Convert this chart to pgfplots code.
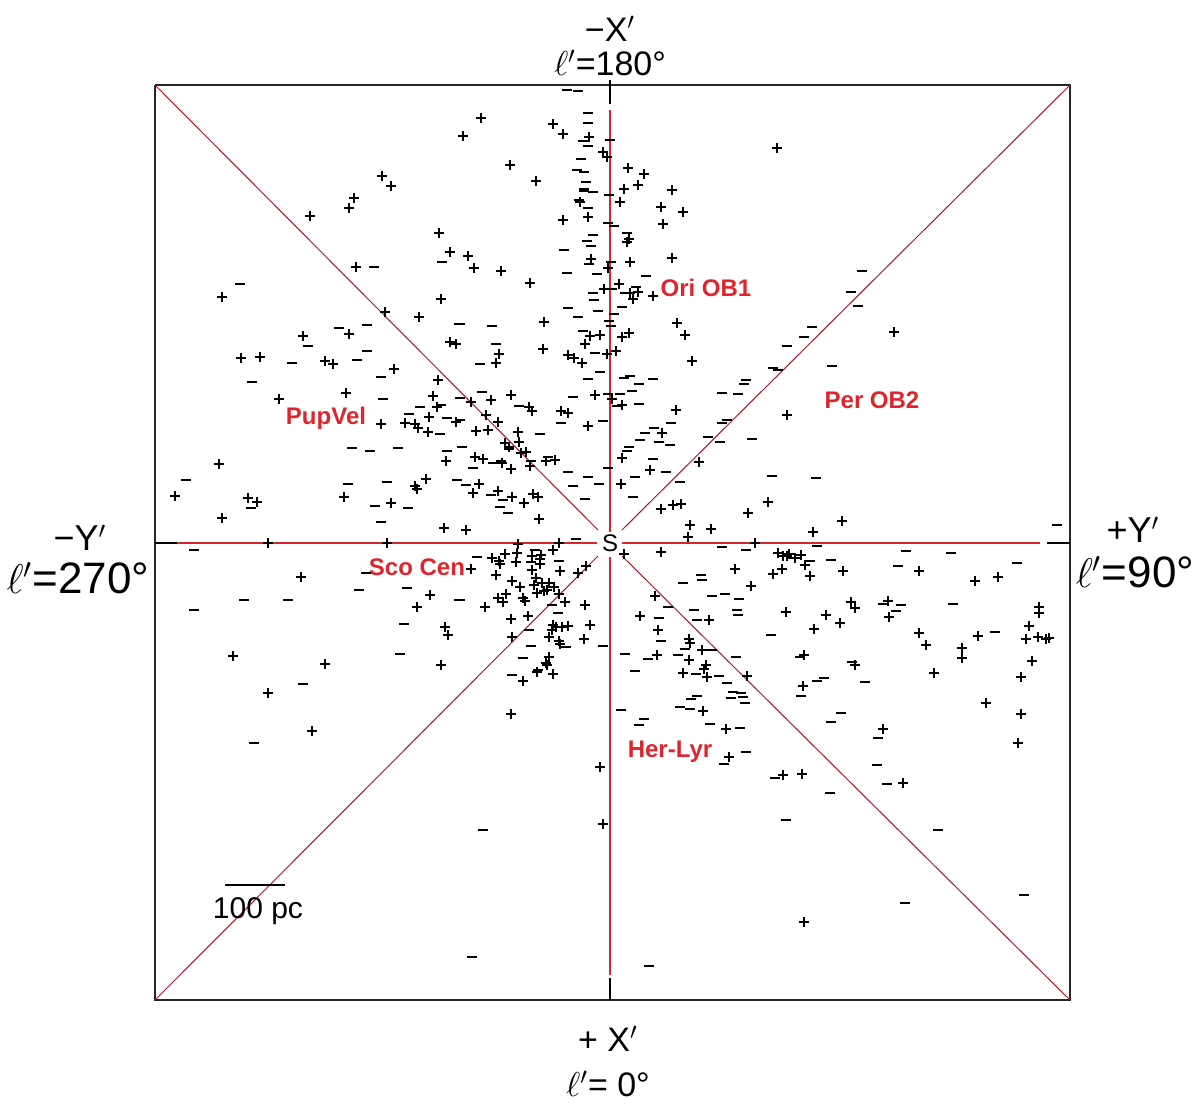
\documentclass[border=0pt]{standalone}
\usepackage{pgfplots}
\pgfplotsset{compat=1.18}
\usepackage{fontspec}
\setmainfont{Liberation Sans}
\definecolor{lblred}{RGB}{222,36,44}
\definecolor{linered}{RGB}{214,38,44}
\definecolor{diagred}{RGB}{176,20,40}
\begin{document}
\begin{tikzpicture}
\begin{axis}[
  scale only axis, width=600pt, height=552.5pt,
  xmin=0, xmax=1200, ymin=0, ymax=1105, y dir=reverse,
  axis lines=none, clip=false,
]
\path (rel axis cs:0,0) rectangle (rel axis cs:1,1);
% frame
\addplot[black!85, line width=1pt, mark=none] coordinates {(155,85) (1070,85) (1070,1000) (155,1000) (155,85)};
% centre ticks on frame
\addplot[black, line width=1.1pt, mark=none] coordinates {(610,80) (610,104)};
\addplot[black, line width=1.1pt, mark=none] coordinates {(610,978) (610,1000)};
\addplot[black, line width=1.1pt, mark=none] coordinates {(155,543) (177,543)};
\addplot[black, line width=1.1pt, mark=none] coordinates {(1047,543) (1070,543)};
% diagonals
\addplot[diagred, line width=0.5pt, mark=none] coordinates {(155,85) (598,530)};
\addplot[diagred, line width=0.5pt, mark=none] coordinates {(1070,85) (622,530)};
\addplot[diagred, line width=0.5pt, mark=none] coordinates {(155,1000) (598,556)};
\addplot[diagred, line width=0.5pt, mark=none] coordinates {(1070,1000) (622,556)};
% axes lines
\addplot[linered, line width=1.2pt, mark=none] coordinates {(610,110) (610,532)};
\addplot[linered, line width=1.2pt, mark=none] coordinates {(610,557) (610,975)};
\addplot[linered, line width=1.2pt, mark=none] coordinates {(177,543) (597,543)};
\addplot[linered, line width=1.2pt, mark=none] coordinates {(622,543) (1040,543)};
% scale bar
\addplot[black, line width=1pt, mark=none] coordinates {(225,885) (285,885)};
% plus stars
\addplot[only marks, mark=+, mark size=2.4pt, mark options={line width=1.35pt, black}] coordinates {
(382,176)(391,186)(354,198)(349,208)(310,216)(439,233)(450,252)(356,267)(222,297)(441,299)(385,312)(419,317)(303,336)(349,334)(241,358)(260,357)(325,361)(333,364)(394,369)(438,380)(450,342)(456,344)
(481,118)(463,136)(553,124)(563,134)(589,137)(510,165)(536,181)(603,152)(607,157)(628,168)(644,174)(624,189)(638,185)(672,190)(620,202)(661,207)(683,212)(563,220)(663,224)(629,239)(627,242)(468,256)(474,268)(501,271)(591,259)(630,262)(672,258)(530,283)(608,268)(619,284)(604,289)(638,292)(633,299)(653,296)(630,293)(677,323)(685,335)(544,322)(543,349)(499,354)(496,363)(568,355)(574,358)(582,363)(590,336)(585,344)(600,335)(607,354)(616,351)(629,333)(622,337)(692,361)(580,202)(588,217)
(777,148)(894,332)
(279,399)(346,393)(433,396)(437,407)(381,424)(405,423)(415,424)(418,428)(429,417)(428,432)(456,422)(219,464)(446,461)(175,496)(248,498)(257,502)(222,518)(344,497)(391,503)(415,486)(417,489)(426,479)(444,528)(268,543)(387,543)(301,577)(430,595)(417,607)(445,627)(448,635)(233,656)(325,664)(441,665)(268,693)
(511,395)(491,400)(471,402)(595,395)(612,399)(622,405)(561,411)(568,413)(529,407)(532,411)(486,415)(498,422)(588,426)(676,410)(476,431)(488,430)(518,432)(519,442)(505,443)(509,447)(521,453)(526,452)(475,457)(483,459)(502,463)(546,461)(555,460)(530,466)(511,469)(662,433)(622,458)(650,470)(621,484)(699,462)(479,484)(473,493)(498,491)(533,494)(538,497)(512,497)(524,503)(539,519)(466,530)(661,509)(673,505)(681,504)(748,513)(690,525)(711,529)(688,537)(755,543)
(518,544)(559,543)(471,569)(492,558)(499,561)(500,564)(505,554)(517,553)(516,562)(532,556)(541,555)(540,559)(553,550)(532,570)(540,564)(560,571)(578,573)(586,566)(624,554)(661,552)(496,575)(512,581)(536,578)(520,587)(534,585)(542,583)(549,583)(554,587)(537,593)(544,591)(547,590)(559,594)(506,594)(498,598)(503,602)(523,598)(525,601)(485,607)(565,602)(585,605)(511,619)(528,616)(553,625)(556,627)(562,627)(568,626)(552,630)(590,625)(549,637)(559,641)(560,644)(512,637)(584,639)(549,657)(546,663)(547,665)(537,672)(553,674)(523,681)(735,569)(751,586)(655,596)(640,616)(658,630)(709,620)(689,639)(690,643)(702,650)(657,655)(689,660)(706,665)(704,669)(683,673)(707,677)(747,676)
(787,415)(768,502)(842,521)(813,532)(778,553)(783,556)(787,556)(789,554)(795,558)(801,555)(805,565)(782,569)(773,574)(810,576)(843,571)(919,571)(975,581)(998,577)(851,602)(855,608)(888,601)(889,617)(786,612)(826,615)(840,623)(814,629)(919,633)(926,645)(962,648)(962,658)(978,636)(1039,607)(1039,613)(1029,626)(1026,639)(1038,637)(1046,639)(1049,638)(1032,661)(1021,677)(804,655)(855,665)(934,673)(803,686)
(312,731)
(511,714)(600,767)(603,824)(703,711)(726,729)(729,757)
(986,703)(1021,714)(1018,743)(883,729)(783,775)(802,774)(903,783)(804,922)
};
% minus stars
\addplot[only marks, mark=-, mark size=2.3pt, mark options={line width=1.3pt, black}] coordinates {
(240,284)(374,267)(442,262)(339,328)(367,325)(308,346)(367,351)(292,363)(357,360)(252,382)(381,377)(459,324)
(567,90)(578,91)(588,113)(588,123)(588,146)(583,141)(610,140)(581,159)(577,170)(584,172)(586,182)(584,189)(584,191)(593,192)(609,195)(579,200)(588,208)(608,223)(614,226)(627,233)(593,235)(587,241)(591,246)(564,250)(589,264)(611,262)(567,273)(597,274)(646,276)(593,293)(594,300)(612,289)(636,287)(625,293)(568,308)(598,311)(622,307)(578,317)(614,314)(460,324)(492,326)(609,321)(583,331)(611,326)(496,344)(595,353)(480,364)(600,372)(588,379)(624,378)(630,376)(639,384)(653,379)(746,380)(744,384)
(862,271)(851,292)(858,306)(812,327)(804,337)(787,346)(832,366)(773,368)(778,370)
(383,399)(420,407)(441,405)(447,418)(440,434)(352,448)(370,451)(398,448)(447,451)(186,480)(348,484)(387,482)(457,480)(251,508)(375,506)(408,508)(381,522)(194,550)(366,573)(359,590)(407,588)(244,600)(288,600)(194,610)(404,624)(400,654)(303,684)(459,600)(409,414)
(482,392)(460,398)(573,397)(608,394)(620,394)(632,391)(617,406)(639,404)(722,393)(738,394)(519,406)(603,421)(561,423)(671,423)(722,423)(727,420)(540,434)(654,428)(645,433)(640,440)(659,442)(670,445)(708,437)(720,442)(752,439)(629,447)(627,451)(509,449)(462,447)(501,461)(493,463)(473,468)(548,457)(531,461)(608,468)(653,459)(666,472)(635,477)(680,482)(568,472)(588,477)(573,486)(599,484)(466,485)(491,495)(503,500)(500,507)(633,497)(585,499)(508,513)(576,539)(460,420)
(477,557)(531,562)(535,550)(559,561)(460,600)(552,605)(529,630)(531,646)(523,658)(538,670)(512,675)(566,647)(558,613)(603,646)(625,654)(635,671)(648,659)(659,618)(661,641)(668,607)(678,655)(685,649)(694,610)(697,620)(701,575)(702,580)(683,583)(712,596)(725,594)(739,599)(737,610)(738,615)(722,547)(746,550)(736,657)(712,650)(696,674)(719,676)(727,683)(733,692)(741,693)
(772,476)(816,478)(1057,525)(817,546)(906,551)(951,553)(810,561)(831,560)(898,566)(1017,563)(883,604)(896,611)(901,605)(953,604)(771,635)(800,657)(852,662)(995,632)(824,678)(817,681)(865,682)
(254,743)
(621,710)(644,719)(639,725)(680,707)(690,709)(691,699)(697,696)(710,724)(740,728)(731,698)(746,752)(724,764)(483,830)(472,957)(649,966)(745,703)(743,697)
(801,696)(841,713)(831,722)(878,738)(877,765)(887,784)(775,778)(830,793)(786,820)(938,830)(905,903)(1024,895)
};
% centre S
\node[fill=white, inner sep=1.5pt, font=\fontsize{12}{13}\selectfont] at (axis cs:610,543) {S};
% region labels
\begin{scope}[every node/.style={text=lblred, font=\fontsize{12}{14}\selectfont\bfseries}]
\node at (axis cs:706,288) {Ori OB1};
\node at (axis cs:872,400) {Per OB2};
\node at (axis cs:326,418) {PupVel};
\node at (axis cs:417,567) {Sco Cen};
\node at (axis cs:670,752) {Her-Lyr};
\end{scope}
% axis direction labels
\node[font=\fontsize{17}{18}\selectfont, inner sep=0pt] at (axis cs:610,29) {−X$'$};
\node[font=\fontsize{17}{18}\selectfont, inner sep=0pt] at (axis cs:610,63) {$\ell'$=180°};
\node[font=\fontsize{18}{20}\selectfont, inner sep=0pt] at (axis cs:80,538) {−Y$'$};
\node[font=\fontsize{22}{24}\selectfont, inner sep=0pt] at (axis cs:78,578) {$\ell'$=270°};
\node[font=\fontsize{18}{20}\selectfont, inner sep=0pt] at (axis cs:1133,530) {+Y$'$};
\node[font=\fontsize{22}{24}\selectfont, inner sep=0pt] at (axis cs:1135,572) {$\ell'$=90°};
\node[font=\fontsize{17}{18}\selectfont, inner sep=0pt] at (axis cs:608,1039) {+ X$'$};
\node[font=\fontsize{17}{18}\selectfont, inner sep=0pt] at (axis cs:608,1084) {$\ell'$= 0°};
\node[font=\fontsize{15}{16}\selectfont] at (axis cs:258,911) {100 pc};
\end{axis}
\end{tikzpicture}
\end{document}
